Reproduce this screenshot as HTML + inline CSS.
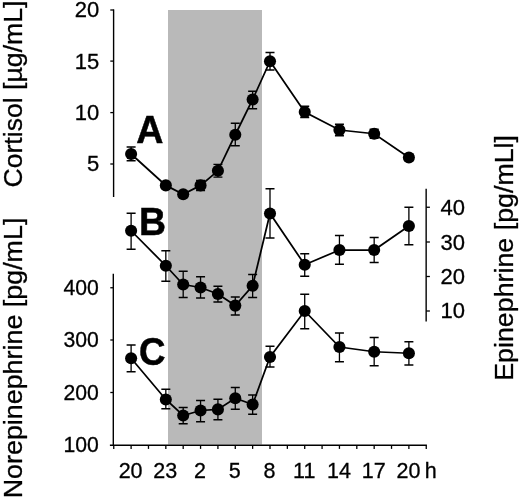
<!DOCTYPE html>
<html><head><meta charset="utf-8"><title>Figure</title>
<style>
html,body{margin:0;padding:0;background:#fff;}
svg{display:block;will-change:transform}
text{font-family:"Liberation Sans",Arial,Helvetica,sans-serif;fill:#000;stroke:#000;stroke-width:0.3px}
.t{font-size:22px}
.x{font-size:21.5px}
.y3{font-size:21.2px}
.l{font-size:26.5px}
.b{font-size:39px;font-weight:bold;stroke-width:.5px}
</style></head><body>
<svg width="520" height="497" viewBox="0 0 520 497">
<rect x="0" y="0" width="520" height="497" fill="#fff"/>
<rect x="168" y="10" width="94" height="434.5" fill="#b9b9b9"/>
<path d="M113.6 9.4V197" stroke="#000" stroke-width="1.4" fill="none"/>
<path d="M110.3 10H113.75" stroke="#000" stroke-width="1.3"/>
<path d="M110.3 61.1H113.75" stroke="#000" stroke-width="1.3"/>
<path d="M110.3 112.6H113.75" stroke="#000" stroke-width="1.3"/>
<path d="M110.3 164H113.75" stroke="#000" stroke-width="1.3"/>
<path d="M113.3 273.75V445.25" stroke="#000" stroke-width="1.4" fill="none"/>
<path d="M110.3 287.75H113.75" stroke="#000" stroke-width="1.3"/>
<path d="M110.3 340H113.75" stroke="#000" stroke-width="1.3"/>
<path d="M110.3 392.5H113.75" stroke="#000" stroke-width="1.3"/>
<path d="M109.9 445.25H426.9" stroke="#000" stroke-width="1.4" fill="none"/>
<path d="M113.75 445.25V448.9" stroke="#000" stroke-width="1.3"/>
<path d="M131.11 445.25V448.9" stroke="#000" stroke-width="1.3"/>
<path d="M148.47 445.25V448.9" stroke="#000" stroke-width="1.3"/>
<path d="M165.83 445.25V448.9" stroke="#000" stroke-width="1.3"/>
<path d="M183.19 445.25V448.9" stroke="#000" stroke-width="1.3"/>
<path d="M200.56 445.25V448.9" stroke="#000" stroke-width="1.3"/>
<path d="M217.92 445.25V448.9" stroke="#000" stroke-width="1.3"/>
<path d="M235.28 445.25V448.9" stroke="#000" stroke-width="1.3"/>
<path d="M252.64 445.25V448.9" stroke="#000" stroke-width="1.3"/>
<path d="M270.00 445.25V448.9" stroke="#000" stroke-width="1.3"/>
<path d="M287.36 445.25V448.9" stroke="#000" stroke-width="1.3"/>
<path d="M304.72 445.25V448.9" stroke="#000" stroke-width="1.3"/>
<path d="M322.08 445.25V448.9" stroke="#000" stroke-width="1.3"/>
<path d="M339.44 445.25V448.9" stroke="#000" stroke-width="1.3"/>
<path d="M356.81 445.25V448.9" stroke="#000" stroke-width="1.3"/>
<path d="M374.17 445.25V448.9" stroke="#000" stroke-width="1.3"/>
<path d="M391.53 445.25V448.9" stroke="#000" stroke-width="1.3"/>
<path d="M408.89 445.25V448.9" stroke="#000" stroke-width="1.3"/>
<path d="M426.25 445.25V448.9" stroke="#000" stroke-width="1.3"/>
<path d="M426.15 188.7V321.6" stroke="#000" stroke-width="1.4" fill="none"/>
<path d="M426.15 207.25H429.9" stroke="#000" stroke-width="1.3"/>
<path d="M426.15 242H429.9" stroke="#000" stroke-width="1.3"/>
<path d="M426.15 276.5H429.9" stroke="#000" stroke-width="1.3"/>
<path d="M426.15 311H429.9" stroke="#000" stroke-width="1.3"/>
<path d="M131.11 147.00V160.75M126.61 147.00H135.61M126.61 160.75H135.61" stroke="#000" stroke-width="1.3" fill="none"/>
<path d="M165.83 183.00V188.00M161.33 183.00H170.33M161.33 188.00H170.33" stroke="#000" stroke-width="1.3" fill="none"/>
<path d="M183.19 192.00V196.50M178.69 192.00H187.69M178.69 196.50H187.69" stroke="#000" stroke-width="1.3" fill="none"/>
<path d="M200.56 180.30V190.50M196.06 180.30H205.06M196.06 190.50H205.06" stroke="#000" stroke-width="1.3" fill="none"/>
<path d="M217.92 164.40V177.20M213.42 164.40H222.42M213.42 177.20H222.42" stroke="#000" stroke-width="1.3" fill="none"/>
<path d="M235.28 123.25V145.75M230.78 123.25H239.78M230.78 145.75H239.78" stroke="#000" stroke-width="1.3" fill="none"/>
<path d="M252.64 91.25V108.75M248.14 91.25H257.14M248.14 108.75H257.14" stroke="#000" stroke-width="1.3" fill="none"/>
<path d="M270.00 52.50V70.00M265.50 52.50H274.50M265.50 70.00H274.50" stroke="#000" stroke-width="1.3" fill="none"/>
<path d="M304.72 106.25V117.50M300.22 106.25H309.22M300.22 117.50H309.22" stroke="#000" stroke-width="1.3" fill="none"/>
<path d="M339.44 124.25V135.75M334.94 124.25H343.94M334.94 135.75H343.94" stroke="#000" stroke-width="1.3" fill="none"/>
<path d="M374.17 129.25V138.25M369.67 129.25H378.67M369.67 138.25H378.67" stroke="#000" stroke-width="1.3" fill="none"/>
<path d="M408.89 154.50V160.50M404.39 154.50H413.39M404.39 160.50H413.39" stroke="#000" stroke-width="1.3" fill="none"/>
<polyline points="131.11,154.00 165.83,185.40 183.19,194.20 200.56,185.40 217.92,170.80 235.28,134.75 252.64,99.50 270.00,61.25 304.72,112.00 339.44,130.00 374.17,133.75 408.89,157.50" fill="none" stroke="#000" stroke-width="1.75"/>
<circle cx="131.11" cy="154.00" r="6.05" fill="#000"/>
<circle cx="165.83" cy="185.40" r="6.05" fill="#000"/>
<circle cx="183.19" cy="194.20" r="6.05" fill="#000"/>
<circle cx="200.56" cy="185.40" r="6.05" fill="#000"/>
<circle cx="217.92" cy="170.80" r="6.05" fill="#000"/>
<circle cx="235.28" cy="134.75" r="6.05" fill="#000"/>
<circle cx="252.64" cy="99.50" r="6.05" fill="#000"/>
<circle cx="270.00" cy="61.25" r="6.05" fill="#000"/>
<circle cx="304.72" cy="112.00" r="6.05" fill="#000"/>
<circle cx="339.44" cy="130.00" r="6.05" fill="#000"/>
<circle cx="374.17" cy="133.75" r="6.05" fill="#000"/>
<circle cx="408.89" cy="157.50" r="6.05" fill="#000"/>
<path d="M131.11 213.25V249.25M126.61 213.25H135.61M126.61 249.25H135.61" stroke="#000" stroke-width="1.3" fill="none"/>
<path d="M165.83 250.75V281.25M161.33 250.75H170.33M161.33 281.25H170.33" stroke="#000" stroke-width="1.3" fill="none"/>
<path d="M183.19 271.25V297.50M178.69 271.25H187.69M178.69 297.50H187.69" stroke="#000" stroke-width="1.3" fill="none"/>
<path d="M200.56 276.75V298.00M196.06 276.75H205.06M196.06 298.00H205.06" stroke="#000" stroke-width="1.3" fill="none"/>
<path d="M217.92 286.25V302.00M213.42 286.25H222.42M213.42 302.00H222.42" stroke="#000" stroke-width="1.3" fill="none"/>
<path d="M235.28 297.00V315.00M230.78 297.00H239.78M230.78 315.00H239.78" stroke="#000" stroke-width="1.3" fill="none"/>
<path d="M252.64 274.50V297.50M248.14 274.50H257.14M248.14 297.50H257.14" stroke="#000" stroke-width="1.3" fill="none"/>
<path d="M270.00 188.75V238.00M265.50 188.75H274.50M265.50 238.00H274.50" stroke="#000" stroke-width="1.3" fill="none"/>
<path d="M304.72 253.75V276.25M300.22 253.75H309.22M300.22 276.25H309.22" stroke="#000" stroke-width="1.3" fill="none"/>
<path d="M339.44 235.50V264.25M334.94 235.50H343.94M334.94 264.25H343.94" stroke="#000" stroke-width="1.3" fill="none"/>
<path d="M374.17 237.50V262.50M369.67 237.50H378.67M369.67 262.50H378.67" stroke="#000" stroke-width="1.3" fill="none"/>
<path d="M408.89 207.25V244.75M404.39 207.25H413.39M404.39 244.75H413.39" stroke="#000" stroke-width="1.3" fill="none"/>
<polyline points="131.11,230.75 165.83,265.75 183.19,284.50 200.56,287.50 217.92,294.00 235.28,305.60 252.64,285.75 270.00,213.50 304.72,264.75 339.44,250.00 374.17,250.00 408.89,226.00" fill="none" stroke="#000" stroke-width="1.75"/>
<circle cx="131.11" cy="230.75" r="6.05" fill="#000"/>
<circle cx="165.83" cy="265.75" r="6.05" fill="#000"/>
<circle cx="183.19" cy="284.50" r="6.05" fill="#000"/>
<circle cx="200.56" cy="287.50" r="6.05" fill="#000"/>
<circle cx="217.92" cy="294.00" r="6.05" fill="#000"/>
<circle cx="235.28" cy="305.60" r="6.05" fill="#000"/>
<circle cx="252.64" cy="285.75" r="6.05" fill="#000"/>
<circle cx="270.00" cy="213.50" r="6.05" fill="#000"/>
<circle cx="304.72" cy="264.75" r="6.05" fill="#000"/>
<circle cx="339.44" cy="250.00" r="6.05" fill="#000"/>
<circle cx="374.17" cy="250.00" r="6.05" fill="#000"/>
<circle cx="408.89" cy="226.00" r="6.05" fill="#000"/>
<path d="M131.11 345.00V371.75M126.61 345.00H135.61M126.61 371.75H135.61" stroke="#000" stroke-width="1.3" fill="none"/>
<path d="M165.83 389.25V408.75M161.33 389.25H170.33M161.33 408.75H170.33" stroke="#000" stroke-width="1.3" fill="none"/>
<path d="M183.19 407.50V423.75M178.69 407.50H187.69M178.69 423.75H187.69" stroke="#000" stroke-width="1.3" fill="none"/>
<path d="M200.56 400.50V421.75M196.06 400.50H205.06M196.06 421.75H205.06" stroke="#000" stroke-width="1.3" fill="none"/>
<path d="M217.92 399.25V419.75M213.42 399.25H222.42M213.42 419.75H222.42" stroke="#000" stroke-width="1.3" fill="none"/>
<path d="M235.28 387.50V409.25M230.78 387.50H239.78M230.78 409.25H239.78" stroke="#000" stroke-width="1.3" fill="none"/>
<path d="M252.64 395.00V414.25M248.14 395.00H257.14M248.14 414.25H257.14" stroke="#000" stroke-width="1.3" fill="none"/>
<path d="M270.00 346.25V367.00M265.50 346.25H274.50M265.50 367.00H274.50" stroke="#000" stroke-width="1.3" fill="none"/>
<path d="M304.72 294.25V328.75M300.22 294.25H309.22M300.22 328.75H309.22" stroke="#000" stroke-width="1.3" fill="none"/>
<path d="M339.44 333.00V361.75M334.94 333.00H343.94M334.94 361.75H343.94" stroke="#000" stroke-width="1.3" fill="none"/>
<path d="M374.17 337.50V365.75M369.67 337.50H378.67M369.67 365.75H378.67" stroke="#000" stroke-width="1.3" fill="none"/>
<path d="M408.89 341.75V365.00M404.39 341.75H413.39M404.39 365.00H413.39" stroke="#000" stroke-width="1.3" fill="none"/>
<polyline points="131.11,358.25 165.83,399.50 183.19,415.50 200.56,410.50 217.92,409.40 235.28,398.25 252.64,404.50 270.00,357.00 304.72,311.00 339.44,347.00 374.17,351.75 408.89,353.25" fill="none" stroke="#000" stroke-width="1.75"/>
<circle cx="131.11" cy="358.25" r="6.05" fill="#000"/>
<circle cx="165.83" cy="399.50" r="6.05" fill="#000"/>
<circle cx="183.19" cy="415.50" r="6.05" fill="#000"/>
<circle cx="200.56" cy="410.50" r="6.05" fill="#000"/>
<circle cx="217.92" cy="409.40" r="6.05" fill="#000"/>
<circle cx="235.28" cy="398.25" r="6.05" fill="#000"/>
<circle cx="252.64" cy="404.50" r="6.05" fill="#000"/>
<circle cx="270.00" cy="357.00" r="6.05" fill="#000"/>
<circle cx="304.72" cy="311.00" r="6.05" fill="#000"/>
<circle cx="339.44" cy="347.00" r="6.05" fill="#000"/>
<circle cx="374.17" cy="351.75" r="6.05" fill="#000"/>
<circle cx="408.89" cy="353.25" r="6.05" fill="#000"/>
<text class="t" x="99.3" y="17.3" text-anchor="end">20</text>
<text class="t" x="99.3" y="68.5" text-anchor="end">15</text>
<text class="t" x="99.3" y="119.9" text-anchor="end">10</text>
<text class="t" x="99.3" y="171.2" text-anchor="end">5</text>
<text class="t y3" x="98.9" y="294.7" text-anchor="end">400</text>
<text class="t y3" x="98.9" y="347.3" text-anchor="end">300</text>
<text class="t y3" x="98.9" y="399.8" text-anchor="end">200</text>
<text class="t y3" x="98.9" y="452.4" text-anchor="end">100</text>
<text class="t" x="440.6" y="214.6" text-anchor="start">40</text>
<text class="t" x="440.6" y="249.5" text-anchor="start">30</text>
<text class="t" x="440.6" y="283.9" text-anchor="start">20</text>
<text class="t" x="440.6" y="318.4" text-anchor="start">10</text>
<text class="t x" x="130.61" y="478" text-anchor="middle">20</text>
<text class="t x" x="165.33" y="478" text-anchor="middle">23</text>
<text class="t x" x="200.06" y="478" text-anchor="middle">2</text>
<text class="t x" x="234.78" y="478" text-anchor="middle">5</text>
<text class="t x" x="269.5" y="478" text-anchor="middle">8</text>
<text class="t x" x="304.22" y="478" text-anchor="middle">11</text>
<text class="t x" x="338.94" y="478" text-anchor="middle">14</text>
<text class="t x" x="373.67" y="478" text-anchor="middle">17</text>
<text class="t x" x="408.39" y="478" text-anchor="middle">20</text>
<text class="t x" x="424.8" y="478" text-anchor="start">h</text>
<text class="l" transform="translate(22.2,187.6) rotate(-90) scale(1.006,1)">Cortisol [µg/mL]</text>
<text class="l" transform="translate(22.3,498.3) rotate(-90) scale(1.014,1)">Norepinephrine [pg/mL]</text>
<text class="l" transform="translate(512.7,380.8) rotate(-90) scale(1.012,1)">Epinephrine [pg/mLl]</text>
<text class="b" transform="translate(136.2,143) scale(.965,1)">A</text>
<text class="b" transform="translate(138.9,235) scale(.96,1)">B</text>
<text class="b" transform="translate(138.9,365) scale(.94,1)">C</text>
</svg>
</body></html>
